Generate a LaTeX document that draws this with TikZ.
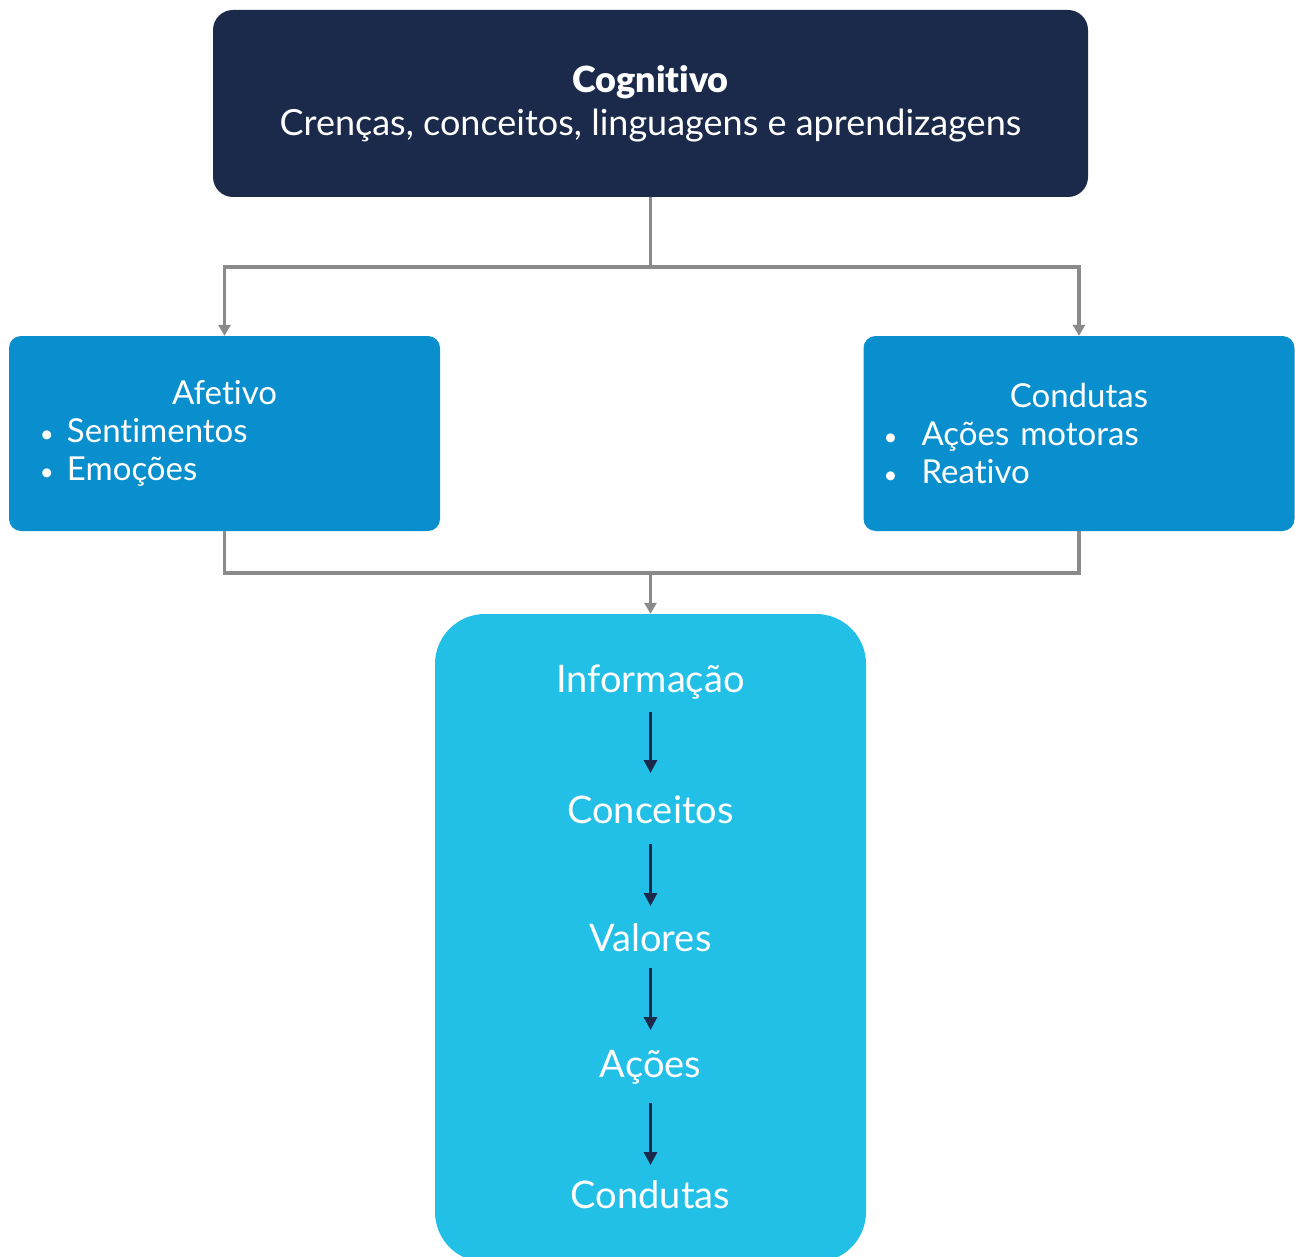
\documentclass[tikz,border=0pt]{standalone}
\usepackage{fontspec}
\setmainfont{Lato}[Ligatures=NoCommon]
\newfontfamily\heavyfont{Lato Black}[Ligatures=NoCommon]
\usepackage{tikz}
\usetikzlibrary{arrows.meta, positioning, calc}
\definecolor{navy}{HTML}{1B2A4A}
\definecolor{midblue}{HTML}{0A8FCE}
\definecolor{lightblue}{HTML}{22BFE7}
\definecolor{linkgray}{HTML}{8A8A8A}
\newcommand{\dotitem}{{\fontsize{24}{38}\selectfont\textbullet}}

\begin{document}
\begin{tikzpicture}[
  x=1pt, y=-1pt,
  every node/.style={text=white, align=center, inner sep=0pt},
  topbox/.style={fill=navy, rounded corners=20pt, minimum width=875pt,
                 minimum height=187pt, font=\fontsize{36}{43}\selectfont},
  sidebox/.style={fill=midblue, rounded corners=12pt, minimum width=431pt,
                  minimum height=195pt, text width=431pt, align=left,
                  font=\fontsize{33}{38}\selectfont},
  procbox/.style={fill=lightblue, rounded corners=50pt, minimum width=431pt,
                  minimum height=648pt},
  step label/.style={font=\fontsize{38}{44}\selectfont},
  link/.style={draw=linkgray, line width=3.5pt},
  arr/.style={link, -{Triangle[length=11pt, width=12pt]}},
  flow/.style={draw=navy, line width=3pt, -{Triangle[length=13pt, width=13pt]}},
]
  \useasboundingbox (0,0) rectangle (1295,1257);
  \clip (0,0) rectangle (1295,1257);

  \node[topbox] (cog) at (650.5,103.5)
        {{\heavyfont\fontsize{36}{43}\selectfont Cognitivo}\\Crenças, conceitos, linguagens e aprendizagens};

  \node[sidebox] (afe) at (224.5,433.5)
        {\makebox[\linewidth]{Afetivo}\\
         \hspace*{31pt}\makebox[27pt][l]{\dotitem}Sentimentos\\
         \hspace*{31pt}\makebox[27pt][l]{\dotitem}Emoções};
  \node[sidebox] (cond) at (1079,433.5)
        {\makebox[\linewidth]{Condutas}\\
         \hspace*{20pt}\makebox[38pt][l]{\dotitem}Ações motoras\\
         \hspace*{20pt}\makebox[38pt][l]{\dotitem}Reativo};

  % bottom block with the chain
  \node[procbox] (proc) at (650.5,938) {};
  \node[step label] (info)  at (650.5,682)  {Informação};
  \node[step label] (conc)  at (650.5,810)  {Conceitos};
  \node[step label] (val)   at (650.5,938)  {Valores};
  \node[step label] (acoes) at (650.5,1067) {Ações};
  \node[step label] (cdt)   at (650.5,1195) {Condutas};

  \draw[flow] ($(info.center)+(0,30)$)  -- ($(conc.center)+(0,-37)$);
  \draw[flow] ($(conc.center)+(0,34)$)  -- ($(val.center)+(0,-32)$);
  \draw[flow] ($(val.center)+(0,30)$)   -- ($(acoes.center)+(0,-37)$);
  \draw[flow] ($(acoes.center)+(0,36)$) -- ($(cdt.center)+(0,-30)$);

  % tree connectors
  \draw[arr] (cog.south) -- ++(0,70) -| (afe.north);
  \draw[arr] (cog.south) -- ++(0,70) -| (cond.north);
  \coordinate (join) at (650.5,573);
  \draw[link] (afe.south) |- (join);
  \draw[link] (cond.south) |- (join);
  \draw[arr] (join) -- (proc.north);
\end{tikzpicture}
\end{document}
